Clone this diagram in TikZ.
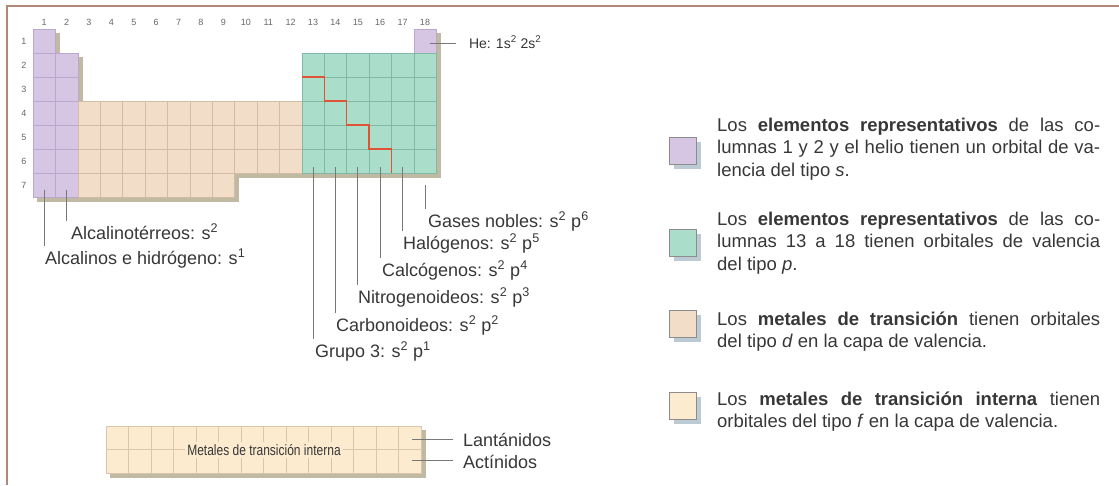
\documentclass[tikz,border=0pt]{standalone}
\usepackage{fontspec}
\setmainfont{Liberation Sans}
\usetikzlibrary{shadows}

\definecolor{sfill}{RGB}{214,198,228}
\definecolor{sline}{RGB}{186,168,206}
\definecolor{dfill}{RGB}{241,221,200}
\definecolor{dline}{RGB}{212,188,164}
\definecolor{pfill}{RGB}{170,222,202}
\definecolor{pline}{RGB}{128,186,164}
\definecolor{ffill}{RGB}{252,235,207}
\definecolor{fline}{RGB}{218,198,170}
\definecolor{tshade}{RGB}{192,186,162}
\definecolor{lshade}{RGB}{188,202,212}
\definecolor{stairred}{RGB}{222,84,52}
\definecolor{framecol}{RGB}{176,136,122}
\definecolor{txt}{RGB}{55,55,55}
\definecolor{lead}{RGB}{120,120,120}

\def\cw{22.4}
\def\rh{24}
\newcommand{\tcell}[3]{\filldraw[#3] ({33+(#1-1)*\cw},{29+(#2-1)*\rh}) rectangle ++(\cw,\rh);}
\newcommand{\ptable}[3]{%
  \foreach \r in {1,...,7} {\tcell{1}{\r}{#1}}
  \foreach \r in {2,...,7} {\tcell{2}{\r}{#1}}
  \tcell{18}{1}{#1}
  \foreach \c in {3,...,12} \foreach \r in {4,5,6} {\tcell{\c}{\r}{#2}}
  \foreach \c in {3,...,9} {\tcell{\c}{7}{#2}}
  \foreach \c in {13,...,18} \foreach \r in {2,...,6} {\tcell{\c}{\r}{#3}}
}
\newcommand{\lline}[1]{\hbox to 383pt{#1}}

\tikzset{
  sblk/.style={fill=sfill, draw=sline, line width=0.5pt},
  dblk/.style={fill=dfill, draw=dline, line width=0.5pt},
  pblk/.style={fill=pfill, draw=pline, line width=0.5pt},
  fblk/.style={fill=ffill, draw=fline, line width=0.5pt},
  shblk/.style={fill=tshade, draw=tshade, line width=0.5pt},
  colnum/.style={font=\fontsize{9}{9}\selectfont, text=black!60},
  lbl/.style={anchor=base west, inner sep=0pt, outer sep=3pt, font=\fontsize{18}{18}\selectfont, text=txt},
  leader/.style={draw=lead, line width=0.7pt},
  stair/.style={draw=stairred, line width=1.2pt},
  legsq/.style={draw=black!45, line width=0.5pt, minimum size=27pt, inner sep=0pt,
    drop shadow={shadow xshift=5pt, shadow yshift=-5pt, fill=lshade, opacity=1}},
  legtxt/.style={anchor=base west, inner sep=0pt, font=\fontsize{18.5}{22.8}\selectfont, text=txt},
}

\begin{document}
\begin{tikzpicture}[x=1pt, y=-1pt]
\useasboundingbox (0,0) rectangle (1119,485);
\draw[framecol, line width=2pt] (7,485) -- (7,6) -- (1119,6);

% table with its shadow
\begin{scope}[shift={(4,4)}]
  \ptable{shblk}{shblk}{shblk}
\end{scope}
\ptable{sblk}{dblk}{pblk}
\draw[stair] ({33+12*\cw},{29+2*\rh}) -- ++(\cw,0) -- ++(0,\rh) -- ++(\cw,0) -- ++(0,\rh)
  -- ++(\cw,0) -- ++(0,\rh) -- ++(\cw,0) -- ++(0,\rh);

\foreach \c in {1,...,18}
  \node[colnum] (k\c) at ({33+(\c-0.5)*\cw},22) {\c};
\foreach \r in {1,...,7}
  \node[colnum] (p\r) at (24,{29+(\r-0.5)*\rh}) {\r};

% helio
\coordinate (hecell) at (430,43);
\node[lbl, font=\fontsize{14}{14}\selectfont] (he) at (466,48) {He: 1s\textsuperscript{2} 2s\textsuperscript{2}};
\draw[leader, shorten >=10pt] (hecell) -- (hecell -| he.west);

% bloque s
\coordinate (g1) at ({33+0.5*\cw},190);
\coordinate (g2) at ({33+1.5*\cw},190);
\node[lbl] (alkt) at (68,239) {Alcalinotérreos: s\textsuperscript{2}};
\node[lbl] (alk) at (42,264) {Alcalinos e hidrógeno: s\textsuperscript{1}};
\draw[leader] (g1) -- (g1 |- alk.north);
\draw[leader] (g2) -- (g2 |- alkt.north);

% bloque p
\foreach \c in {13,...,17}
  \coordinate (g\c) at ({33+(\c-0.5)*\cw},167);
\coordinate (g18) at ({33+17.5*\cw},185);
\node[lbl] (gases) at (425,227) {Gases nobles: s\textsuperscript{2} p\textsuperscript{6}};
\node[lbl] (halo) at (400,249) {Halógenos: s\textsuperscript{2} p\textsuperscript{5}};
\node[lbl] (calco) at (379,276) {Calcógenos: s\textsuperscript{2} p\textsuperscript{4}};
\node[lbl] (nitro) at (355,303) {Nitrogenoideos: s\textsuperscript{2} p\textsuperscript{3}};
\node[lbl] (carbo) at (333,331) {Carbonoideos: s\textsuperscript{2} p\textsuperscript{2}};
\node[lbl] (grupo) at (312,357) {Grupo 3: s\textsuperscript{2} p\textsuperscript{1}};
\draw[leader] (g13) -- (g13 |- grupo.north);
\draw[leader] (g14) -- (g14 |- carbo.north);
\draw[leader] (g15) -- (g15 |- nitro.north);
\draw[leader] (g16) -- (g16 |- calco.north);
\draw[leader] (g17) -- (g17 |- halo.north);
\draw[leader] (g18) -- (g18 |- gases.north);

% bloque f
\filldraw[shblk] (110,430) rectangle (425,477);
\foreach \c in {1,...,14} \foreach \r in {1,2}
  \filldraw[fblk] ({106+(\c-1)*22.5},{426+(\r-1)*23.5}) rectangle ++(22.5,23.5);
\node[fill=ffill, inner sep=2pt, text=txt] (mti) at (264,450)
  {\scalebox{0.8}[1]{\fontsize{15}{15}\selectfont Metales de transición interna}};
\coordinate (la) at (412,439);
\coordinate (ac) at (412,460);
\node[lbl] (lant) at (460,446) {Lantánidos};
\node[lbl] (acti) at (460,468) {Actínidos};
\draw[leader, shorten >=7pt] (la) -- (la -| lant.west);
\draw[leader, shorten >=7pt] (ac) -- (ac -| acti.west);

% leyenda
\node[legsq, fill=sfill] (sqs) at (682.5,150.5) {};
\node[legsq, fill=pfill] (sqp) at (682.5,242.5) {};
\node[legsq, fill=dfill] (sqd) at (682.5,323.5) {};
\node[legsq, fill=ffill] (sqf) at (682.5,405.5) {};
\node[legtxt] (txs) at (717,131) {\vtop{%
  \lline{Los \textbf{elementos representativos} de las co-}
  \lline{lumnas 1 y 2 y el helio tienen un orbital de va-}
  \hbox{lencia del tipo \textit{s}.}}};
\node[legtxt] (txp) at (717,225) {\vtop{%
  \lline{Los \textbf{elementos representativos} de las co-}
  \lline{lumnas 13 a 18 tienen orbitales de valencia}
  \hbox{del tipo \textit{p}.}}};
\node[legtxt] (txd) at (717,325) {\vtop{%
  \lline{Los \textbf{metales de transición} tienen orbitales}
  \hbox{del tipo \textit{d} en la capa de valencia.}}};
\node[legtxt] (txf) at (717,405) {\vtop{%
  \lline{Los \textbf{metales de transición interna} tienen}
  \hbox{orbitales del tipo \textit{f} en la capa de valencia.}}};
\end{tikzpicture}
\end{document}
